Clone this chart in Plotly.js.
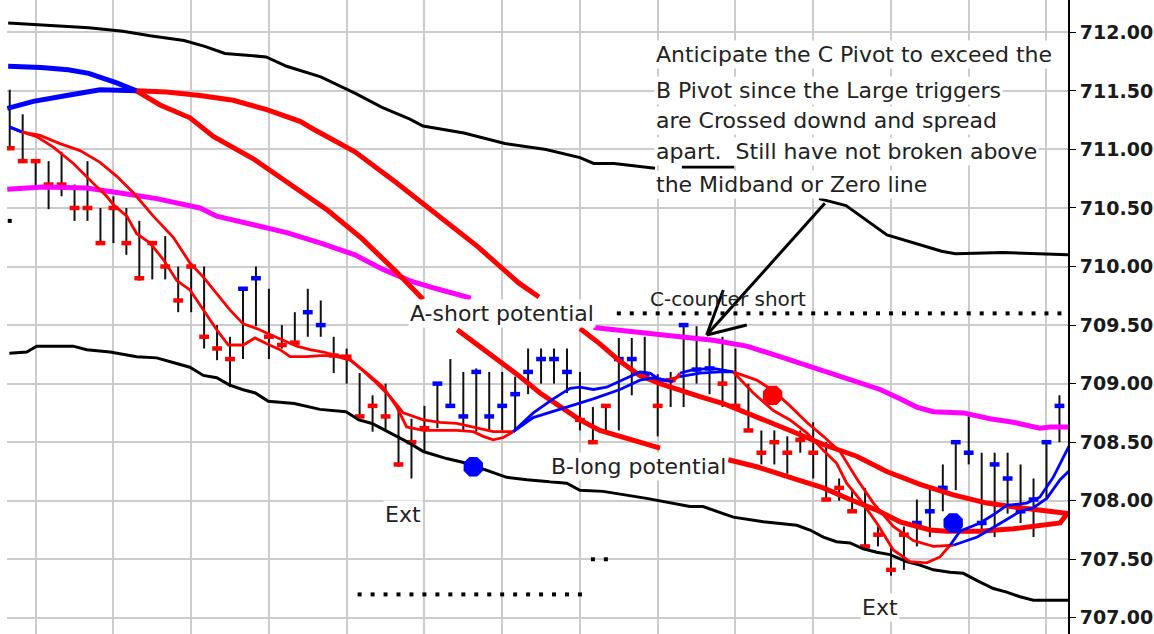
<!DOCTYPE html>
<html><head><meta charset="utf-8">
<script src="https://cdn.plot.ly/plotly-3.0.1.min.js"></script>
<style>html,body{margin:0;padding:0;background:#fff;}#chart{width:1154px;height:634px;}</style>
</head><body><div id="chart"></div>
<script>
// ---- price bars (one per bar index 0..81) ----
const highs = [711.51,711.30,710.90,710.90,710.98,710.70,710.90,710.50,710.60,710.50,
710.39,710.20,710.26,710.00,710.03,710.00,709.50,709.40,709.81,710.00,
709.81,709.50,709.61,709.81,709.71,709.40,709.30,709.09,708.90,709.00,
708.81,708.70,708.81,709.00,709.21,709.10,709.13,709.10,709.10,709.06,
709.30,709.30,709.30,709.30,709.10,708.80,708.81,709.39,709.39,709.40,
709.08,709.10,709.50,709.49,709.30,709.40,709.30,709.00,708.60,708.60,
708.55,708.60,708.67,708.50,708.19,708.10,708.11,707.78,707.61,707.78,
708.01,708.11,708.31,708.50,708.72,708.41,708.41,708.41,708.31,708.19,
708.50,708.90];
const lows = [711.00,710.90,710.68,710.49,710.60,710.39,710.39,710.20,710.20,710.10,
709.88,709.89,709.89,709.61,709.61,709.30,709.20,708.97,709.21,709.49,
709.21,709.30,709.33,709.40,709.40,709.09,709.00,708.72,708.59,708.61,
708.29,708.19,708.41,708.62,708.81,708.59,708.59,708.60,708.60,708.60,
708.91,709.00,709.00,708.92,708.60,708.50,708.60,708.60,708.90,709.05,
708.55,708.80,708.80,709.00,708.91,708.80,708.81,708.60,708.31,708.31,
708.23,708.41,708.19,708.00,708.00,707.90,707.60,707.61,707.36,707.41,
707.61,707.69,707.91,708.09,708.31,707.72,707.69,707.89,707.81,707.69,
708.01,708.50];
const closes = [711.01,710.90,710.90,710.70,710.70,710.50,710.50,710.20,710.50,710.20,
709.90,710.20,710.00,709.71,710.00,709.40,709.30,709.21,709.81,709.90,
709.40,709.33,709.35,709.61,709.50,709.24,709.23,708.72,708.81,708.72,
708.31,708.50,708.62,709.00,708.81,708.72,709.10,708.72,708.81,708.91,
709.10,709.21,709.21,709.10,708.69,708.50,708.81,709.21,709.21,709.08,
708.81,709.03,709.50,709.12,709.13,709.00,708.81,708.60,708.41,708.50,
708.41,708.52,708.41,708.01,708.11,707.91,707.61,707.71,707.41,707.71,
707.81,707.91,708.11,708.50,708.41,707.81,708.31,708.19,707.91,708.01,
708.50,708.81];
const closeColors = ['r','r','r','r','r','r','r','r','r','r','r','r','r','r','r','r','r','r',
'b','b','r','r','r','b','b','r','r','r','r','r','r','r','r',
'b','b','b','b','b','b','b','b','b','b','b',
'r','r','r','b','b','b','r','r','b','b','b',
'r','r','r','r','r','r','r','r','r','r','r','r','r','r','r',
'b','b','b','b','b','b','b','b','b','b','b','b'];

// ---- bands ----
const upperBandIdx = [-0.12,4.50,6.10,8.73,10.83,13.45,15.05,16.61,19.78,21.37,24.0,26.63,28.73,30.84,31.89,35.05,38.20,41.38,44.0,45.06,46.63,49.79,null,51.87,55.89,null,62.45,64.53,67.69,69.80,71.91,72.97,76.64,81.8];
const upperBandVal = [712.08,712.05,712.04,712.01,711.97,711.93,711.88,711.82,711.79,711.71,711.62,711.48,711.36,711.26,711.20,711.14,711.05,711.00,710.93,710.88,710.88,710.84,null,710.85,710.85,null,710.58,710.52,710.27,710.20,710.13,710.11,710.12,710.10];
const lowerBandIdx = [-0.03,1.31,2.08,4.9,5.94,7.74,9.8,11.34,12.6,13.9,14.94,15.97,16.94,17.95,18.95,19.95,21.96,23.94,25.95,26.95,27.96,28.96,30.89,31.91,33.72,35.26,36.8,38.35,39.9,42.98,44.0,45.78,49.15,52.49,53.5,54.55,55.83,58.15,60.73,61.75,62.78,63.8,64.84,65.86,66.9,67.93,69.2,70.24,71.27,72.55,73.58,74.61,75.9,76.93,77.96,78.99,81.8];
const lowerBandVal = [709.26,709.27,709.32,709.32,709.29,709.27,709.23,709.22,709.18,709.14,709.07,709.05,708.99,708.95,708.92,708.85,708.83,708.78,708.76,708.69,708.66,708.60,708.49,708.42,708.36,708.32,708.26,708.20,708.18,708.15,708.09,708.08,708.02,707.95,707.95,707.91,707.86,707.82,707.79,707.75,707.69,707.65,707.64,707.59,707.56,707.54,707.48,707.45,707.41,707.39,707.38,707.32,707.25,707.22,707.18,707.15,707.15];
const midbandIdx = [-0.19,0.79,2.59,5.94,7.74,9.54,11.34,13.14,14.68,15.97,17.15,19.24,21.37,24.0,26.63,28.73,30.84,32.95,35.58,null,45.06,46.57,49.15,51.72,54.29,56.87,59.44,62.0,64.58,67.16,68.7,69.98,71.27,73.58,75.64,77.44,79.5,80.29,81.8];
const midbandVal = [710.66,710.67,710.68,710.67,710.645,710.61,710.58,710.54,710.50,710.43,710.40,710.35,710.29,710.20,710.10,709.98,709.88,709.81,709.73,null,709.48,709.46,709.43,709.40,709.37,709.32,709.23,709.14,709.05,708.95,708.87,708.80,708.76,708.75,708.70,708.67,708.62,708.63,708.63];

// ---- large triggers ----
const largeCrossIdx = 9.78;
const large1Idx = [-0.12,2.42,4.50,6.10,8.20,9.78,11.60,13.91,15.71,18.80,22.40,24.53,27.16,29.79,31.89,null,34.53,37.83,39.37,40.92,42.46,44.0,45.54,47.09,48.63,50.18,null,55.45,57.64,60.21,62.78,64.84,66.90,68.70,71.02,72.30,74.87,77.44,79.24,81.05,81.6];
const large1Val = [711.71,711.70,711.68,711.65,711.57,711.50,711.38,711.27,711.11,710.92,710.65,710.48,710.24,709.96,709.72,null,709.46,709.19,709.06,708.92,708.80,708.69,708.60,708.55,708.49,708.45,null,708.35,708.29,708.20,708.11,708.01,707.92,707.82,707.75,707.74,707.74,707.76,707.78,707.81,707.89];
const large2Idx = [-0.19,1.82,4.40,6.97,9.78,12.11,14.68,17.25,19.83,22.40,23.48,26.64,29.79,32.95,36.11,39.27,40.84,null,44.0,45.54,47.09,48.63,50.18,51.72,53.26,55.06,57.64,60.21,62.78,65.35,67.67,70.24,72.81,75.39,77.96,80.52,81.8];
const large2Val = [711.35,711.41,711.46,711.51,711.50,711.49,711.46,711.42,711.34,711.24,711.17,710.98,710.72,710.45,710.17,709.86,709.74,null,709.47,709.34,709.19,709.07,709.00,708.95,708.89,708.83,708.72,708.60,708.48,708.38,708.25,708.14,708.05,707.98,707.94,707.91,707.89];

// ---- small triggers ----
const smallBlueRanges = [[-1,0.93],[38.86,51.0],[51.72,55.83],[72.56,90]];
const smallFastIdx = [0,0.93,2.08,3.36,4.91,6.45,7.48,7.99,9.03,9.80,10.83,11.85,12.89,13.91,14.94,15.97,16.87,18.02,18.93,19.83,20.86,21.63,22.92,23.94,24.97,26.26,27.55,28.83,29.86,30.63,31.91,34.49,35.77,36.54,37.31,38.09,38.86,40.40,41.94,43.23,44.0,45.03,46.06,47.61,48.63,49.41,50.18,51.20,51.72,52.75,54.29,55.83,57.38,58.92,60.21,61.50,62.78,63.81,64.58,65.61,66.90,68.18,69.47,70.76,71.78,72.56,73.33,74.87,75.90,76.93,78.47,79.48,80.52,81.8];
const smallFastVal = [711.19,711.15,711.11,711.02,710.88,710.71,710.60,710.53,710.43,710.28,710.20,710.06,709.88,709.80,709.63,709.46,709.33,709.33,709.39,709.34,709.29,709.23,709.23,709.24,709.24,709.20,709.09,708.97,708.80,708.63,708.60,708.60,708.59,708.55,708.52,708.54,708.59,708.75,708.87,708.96,708.97,708.95,708.97,709.05,709.10,709.09,709.03,709.02,709.09,709.12,709.13,709.10,708.92,708.77,708.69,708.58,708.43,708.32,708.15,708.01,707.81,707.58,707.48,707.47,707.52,707.62,707.74,707.81,707.88,707.96,707.98,708.03,708.20,708.48];
const smallSlowIdx = [0,0.93,2.34,3.88,5.42,6.97,8.26,9.54,11.08,12.62,13.91,14.94,15.97,16.99,18.02,19.06,20.08,21.11,22.15,23.17,24.20,25.23,26.0,26.77,28.06,29.34,30.37,31.91,33.20,34.49,36.03,37.31,38.86,40.39,42.98,45.03,47.09,48.63,49.66,50.69,51.72,53.26,54.81,55.83,57.64,58.92,60.21,61.50,62.78,64.07,65.35,66.64,68.18,69.72,71.27,72.81,74.66,76.93,77.96,78.99,80.02,81.05,81.8];
const smallSlowVal = [711.19,711.15,711.12,711.05,710.99,710.89,710.77,710.63,710.43,710.25,710.03,709.91,709.77,709.63,709.51,709.47,709.42,709.37,709.32,709.29,709.27,709.24,709.23,709.16,709.03,708.89,708.75,708.69,708.67,708.66,708.62,708.59,708.59,708.71,708.80,708.87,708.95,709.03,709.05,709.03,709.06,709.09,709.10,709.10,709.03,708.94,708.81,708.67,708.55,708.42,708.19,707.98,707.78,707.66,707.61,707.62,707.69,707.84,707.91,707.94,708.02,708.18,708.26];

// ---- dotted levels and pivots ----
const counterShortLevel = 709.60, counterShortFrom = 47, counterShortTo = 81;
const lowerDotLevel = 707.20, lowerDotFrom = 27, lowerDotTo = 44;
const pairDotIdx = [45,46], pairDotVal = [707.50,707.50];
const edgeDotIdx = [0], edgeDotVal = [710.39];
const bluePivotIdx = [35.77,72.8], bluePivotVal = [708.29,707.81];
const redPivotIdx = [58.87], redPivotVal = [708.90];

const RED = '#ff0000', BLUE = '#0000ff', MAG = '#ff00ff';
const traces = [];

// bars
const bx = [], by = [];
for (let i = 0; i < highs.length; i++) { bx.push(i, i, null); by.push(lows[i], highs[i], null); }
traces.push({x: bx, y: by, mode: 'lines', line: {color: '#111', width: 2}, hoverinfo: 'skip'});
traces.push({x: closes.map((_, i) => i), y: closes, mode: 'markers',
  marker: {symbol: 'line-ew', size: 7, color: closeColors.map(c => c === 'b' ? BLUE : RED),
    line: {width: 4.5, color: closeColors.map(c => c === 'b' ? BLUE : RED)}}});

// bands
traces.push({x: upperBandIdx, y: upperBandVal, mode: 'lines', line: {color: '#000', width: 3}, connectgaps: false});
traces.push({x: lowerBandIdx, y: lowerBandVal, mode: 'lines', line: {color: '#000', width: 3}, connectgaps: false});
traces.push({x: midbandIdx, y: midbandVal, mode: 'lines', line: {color: MAG, width: 5}, connectgaps: false});

function colorRuns(xs, ys, isBlue, width) {
  const runs = {blue: {x: [], y: []}, red: {x: [], y: []}};
  let prevColor = null, prevEnd = -1;
  for (let k = 0; k < xs.length - 1; k++) {
    if (xs[k] == null || xs[k + 1] == null || ys[k] == null || ys[k + 1] == null) { prevColor = null; continue; }
    const c = isBlue((xs[k] + xs[k + 1]) / 2) ? 'blue' : 'red';
    const t = runs[c];
    if (c !== prevColor || prevEnd !== k) {
      if (t.x.length) { t.x.push(null); t.y.push(null); }
      t.x.push(xs[k]); t.y.push(ys[k]);
    }
    t.x.push(xs[k + 1]); t.y.push(ys[k + 1]);
    prevColor = c; prevEnd = k + 1;
  }
  return [
    {x: runs.red.x, y: runs.red.y, mode: 'lines', line: {color: RED, width: width}, connectgaps: false},
    {x: runs.blue.x, y: runs.blue.y, mode: 'lines', line: {color: BLUE, width: width}, connectgaps: false}
  ];
}
const largeBlue = x => x < largeCrossIdx;
const smallBlue = x => smallBlueRanges.some(r => x >= r[0] && x < r[1]);
traces.push(...colorRuns(large1Idx, large1Val, largeBlue, 5));
traces.push(...colorRuns(large2Idx, large2Val, largeBlue, 5));
traces.push(...colorRuns(smallSlowIdx, smallSlowVal, smallBlue, 2.8));
traces.push(...colorRuns(smallFastIdx, smallFastVal, smallBlue, 2.8));

// dotted levels
const dx = [], dy = [];
for (let i = counterShortFrom; i <= counterShortTo; i++) { dx.push(i); dy.push(counterShortLevel); }
for (let i = lowerDotFrom; i <= lowerDotTo; i++) { dx.push(i); dy.push(lowerDotLevel); }
dx.push(...pairDotIdx, ...edgeDotIdx); dy.push(...pairDotVal, ...edgeDotVal);
traces.push({x: dx, y: dy, mode: 'markers', marker: {symbol: 'square', size: 4, color: '#000'}});

// pivots
traces.push({x: bluePivotIdx, y: bluePivotVal, mode: 'markers', marker: {symbol: 'octagon', size: 21, color: BLUE}});
traces.push({x: redPivotIdx, y: redPivotVal, mode: 'markers', marker: {symbol: 'octagon', size: 21, color: RED}});

const F = 'DejaVu Sans';
const txt = (text, x, y, size, bg, xanchor) => ({text, x, y, xref: 'x', yref: 'y', showarrow: false,
  font: {family: F, size, color: '#222'}, bgcolor: bg ? '#ffffff' : 'rgba(0,0,0,0)', borderpad: 1,
  xanchor: xanchor || 'center', yanchor: 'middle'});
const annotations = [
  txt('A-short potential', 37.96, 709.60, 22, true),
  txt('B-long potential', 48.52, 708.29, 22, true),
  txt('C-counter short', 55.45, 709.72, 20, false),
  txt('Ext', 30.32, 707.88, 22, true),
  txt('Ext', 67.16, 707.09, 22, true),
  txt('Anticipate the C Pivot to exceed the', 49.72, 711.81, 22, true, 'left'),
  txt('B Pivot since the Large triggers', 49.72, 711.50, 22, true, 'left'),
  txt('are Crossed downd and spread', 49.72, 711.25, 22, true, 'left'),
  txt('apart.  Still have not broken above', 49.72, 710.98, 22, true, 'left'),
  txt('the Midband or Zero line', 49.72, 710.70, 22, true, 'left')
];

const arrowLine = (x0, y0, x1, y1) => ({type: 'line', xref: 'x', yref: 'y', x0, y0, x1, y1, layer: 'above', line: {color: '#000', width: 3}});
const shapes = [
  arrowLine(62.9, 710.54, 53.78, 709.415),
  arrowLine(53.78, 709.415, 55.06, 709.80),
  arrowLine(53.78, 709.415, 56.87, 709.50)
];

const layout = {
  width: 1154, height: 634,
  margin: {l: 7, r: 86, t: 0, b: 0, pad: 0},
  paper_bgcolor: '#ffffff', plot_bgcolor: '#ffffff',
  showlegend: false, hovermode: false,
  xaxis: {range: [-0.21, 81.66], tickmode: 'linear', tick0: 2, dtick: 6, showgrid: true,
    gridcolor: '#cccccc', gridwidth: 2, showticklabels: false, ticks: '', zeroline: false, showline: false, fixedrange: true},
  yaxis: {range: [706.862, 712.276], side: 'right', tickmode: 'linear', tick0: 707, dtick: 0.5, tickformat: '.2f',
    showgrid: true, gridcolor: '#cccccc', gridwidth: 2, zeroline: false,
    showline: true, linecolor: '#000', linewidth: 2, ticks: 'outside', ticklen: 6, tickwidth: 1, tickcolor: '#000',
    tickfont: {family: F, size: 19, color: '#1a1a1a', weight: 'bold'}, fixedrange: true},
  annotations, shapes
};

Plotly.newPlot('chart', traces, layout, {displayModeBar: false, staticPlot: true});
</script>
</body></html>
